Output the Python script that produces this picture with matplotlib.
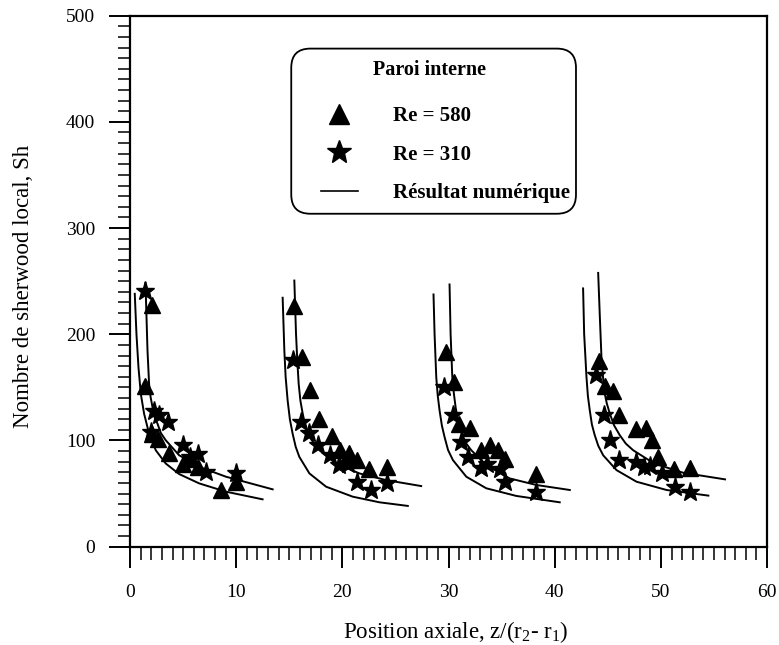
import numpy as np
import matplotlib
matplotlib.use("Agg")
import matplotlib.pyplot as plt
from matplotlib.lines import Line2D
from matplotlib.patches import FancyBboxPatch
from matplotlib.ticker import MultipleLocator

plt.rcParams['font.family'] = ['Liberation Serif', 'DejaVu Serif']
plt.rcParams['mathtext.fontset'] = 'custom'
plt.rcParams['mathtext.rm'] = 'Liberation Serif'
plt.rcParams['mathtext.it'] = 'Liberation Serif:italic'

# measured points, Re = 580 (triangles)
tri_x = [1.42, 2.1, 2.1, 2.67, 3.68, 4.94, 5.72, 6.35, 8.55, 9.97,
         15.47, 16.16, 16.95, 17.77, 19.06, 19.74, 20.66, 21.38, 22.55, 24.18,
         29.72, 30.47, 30.97, 31.98, 33.08, 33.87, 34.65, 35.35, 38.27,
         44.18, 44.72, 45.44, 46.04, 47.64, 48.55, 49.12, 49.75, 51.23, 52.74]
tri_y = [151.7, 228, 106.5, 101.8, 88.3, 77.4, 83, 75.2, 53.4, 61.1,
         226.6, 178.8, 147.6, 120.5, 103.9, 91.5, 88.3, 82.1, 72.7, 75.2,
         182.9, 154.8, 115.8, 112.1, 90.8, 96.2, 90.8, 83.0, 68.4,
         175.1, 151.7, 147.0, 124.3, 111.1, 111.7, 100.8, 84.6, 72.7, 73.7]

# measured points, Re = 310 (stars)
star_x = [1.42, 2.26, 2.74, 3.58, 2.0, 4.94, 6.35, 5.63, 7.14, 9.97,
          15.38, 16.1, 16.82, 17.67, 18.87, 19.72, 20.5, 21.35, 22.7, 24.18,
          29.56, 30.41, 31.2, 31.82, 33.08, 33.62, 34.81, 35.35, 38.27,
          43.93, 44.62, 45.25, 46.04, 47.64, 48.4, 48.96, 50.06, 51.32, 52.74]
star_y = [241, 127.6, 123.6, 117, 108, 95.5, 87.7, 84, 70.5, 69.6,
          175.7, 117.3, 107.0, 95.5, 86.1, 76.8, 78.3, 61.2, 53.4, 59.6,
          150.7, 123.6, 98.6, 84.0, 73.7, 78.3, 72.7, 60.6, 51.8,
          162.0, 123.6, 100.2, 82.1, 79.9, 75.2, 75.8, 69.0, 56.5, 51.8]

# numerical results: lower and upper curve for each of the 4 sections
low_x = [
    [0.44, 0.60, 0.79, 1.01, 1.32, 1.79, 2.42, 3.36, 4.62, 6.51, 9.03, 12.48],
    [14.37, 14.53, 14.65, 14.84, 15.05, 15.31, 15.6, 15.94, 16.89, 18.46, 20.97, 23.49, 26.16],
    [28.58, 28.68, 28.84, 28.98, 29.15, 29.37, 29.62, 29.95, 30.41, 31.67, 33.55, 36.38, 40.47],
    [42.67, 42.77, 42.99, 43.12, 43.3, 43.5, 43.77, 44.1, 44.56, 45.82, 47.7, 50.53, 54.47],
]
low_y = [
    [238.1, 200.1, 168.8, 143.9, 125.2, 106.4, 90.8, 78.3, 68.4, 59.6, 51.8, 44.6],
    [234.4, 184.5, 160, 137.6, 120, 106.4, 94, 84.6, 69.0, 56.5, 47.1, 41.8, 38.4],
    [237.5, 200.1, 159.5, 142, 128.3, 114, 103.3, 91, 81.5, 65.9, 55.0, 47.8, 41.8],
    [243.2, 200.1, 159.5, 142, 128.3, 115, 104.9, 95, 86.1, 72.1, 61.2, 53.4, 48.1],
]
up_x = [
    [1.45, 1.64, 1.79, 1.93, 2.11, 2.3, 2.58, 2.9, 3.36, 4.62, 6.51, 9.03, 13.43],
    [15.47, 15.63, 15.75, 15.88, 16.05, 16.26, 16.55, 16.89, 17.83, 19.40, 21.6, 24.12, 27.42],
    [30.09, 30.19, 30.35, 30.5, 30.66, 30.9, 31.2, 31.6, 32.14, 33.55, 35.75, 38.27, 41.42],
    [44.09, 44.25, 44.4, 44.65, 44.9, 45.19, 45.6, 46.13, 46.7, 47.39, 49.37, 52.11, 56.04],
]
up_y = [
    [248.4, 184.5, 153.2, 141, 131.4, 122, 115.8, 107, 100.2, 86.1, 75.2, 65.9, 54.0],
    [250.6, 200.1, 175, 153.2, 137, 125.2, 112, 103.3, 90.8, 78.3, 69.0, 62.7, 57.1],
    [246.9, 200.1, 159.5, 144, 131.4, 118, 108.0, 98, 90.8, 76.8, 64.3, 58.1, 53.4],
    [257.8, 215.7, 178.2, 147.0, 135, 125.2, 114, 104.9, 97, 90.8, 78.3, 69.6, 63.4],
]

fig = plt.figure(figsize=(7.79, 6.45), dpi=100)
ax = fig.add_axes([0.167, 0.1524, 0.8177, 0.8233])

for i in range(4):
    ax.plot(low_x[i], low_y[i], color='k', lw=1.4)
    ax.plot(up_x[i], up_y[i], color='k', lw=1.4)

ax.plot(tri_x, tri_y, linestyle='none', marker='^', color='k', markersize=11)
ax.plot(star_x, star_y, linestyle='none', marker='*', color='k', markersize=14)

ax.set_xlim(0, 60)
ax.set_ylim(0, 500)
ax.xaxis.set_major_locator(MultipleLocator(10))
ax.xaxis.set_minor_locator(MultipleLocator(1))
ax.yaxis.set_major_locator(MultipleLocator(100))
ax.yaxis.set_minor_locator(MultipleLocator(10))
ax.tick_params(axis='x', which='major', direction='out', length=15, width=1.4, labelsize=14, pad=12)
ax.tick_params(axis='x', which='minor', direction='out', length=9, width=1.1)
ax.tick_params(axis='y', which='major', direction='out', length=15, width=1.4, labelsize=14, pad=10)
ax.tick_params(axis='y', which='minor', direction='out', length=9, width=1.1)
for s in ax.spines.values():
    s.set_linewidth(1.6)

ax.set_xlabel('Position axiale, z/(r$_2$- r$_1$)', fontsize=16.5)
ax.set_ylabel('Nombre de sherwood local, Sh', fontsize=16.5)
ax.xaxis.set_label_coords(0.512, -0.136)
ax.yaxis.set_label_coords(-0.151, 0.49)

# legend frame with rounded corners
frame = FancyBboxPatch((0.253, 0.627), 0.447, 0.311, transform=ax.transAxes,
                       boxstyle='round,pad=0,rounding_size=0.03',
                       mutation_aspect=636 / 531, fc='white', ec='k', lw=1.3,
                       zorder=4)
ax.add_patch(frame)
ax.text(0.470, 0.898, 'Paroi interne', transform=ax.transAxes, ha='center',
        va='center', fontsize=14.5, fontweight='bold', zorder=6)

handles = [
    Line2D([], [], linestyle='none', marker='^', color='k', markersize=15),
    Line2D([], [], linestyle='none', marker='*', color='k', markersize=18),
    Line2D([], [], color='k', lw=1.2),
]
labels = ['Re = 580', 'Re = 310', 'Résultat numérique']
leg = ax.legend(handles, labels, loc='upper left',
                bbox_to_anchor=(0.299, 0.830), frameon=False,
                borderpad=0, borderaxespad=0, labelspacing=0.9,
                handlelength=1.8, handletextpad=1.7,
                prop={'weight': 'bold', 'size': 15})
leg.set_zorder(5)

fig.savefig('out.png', dpi=100)
